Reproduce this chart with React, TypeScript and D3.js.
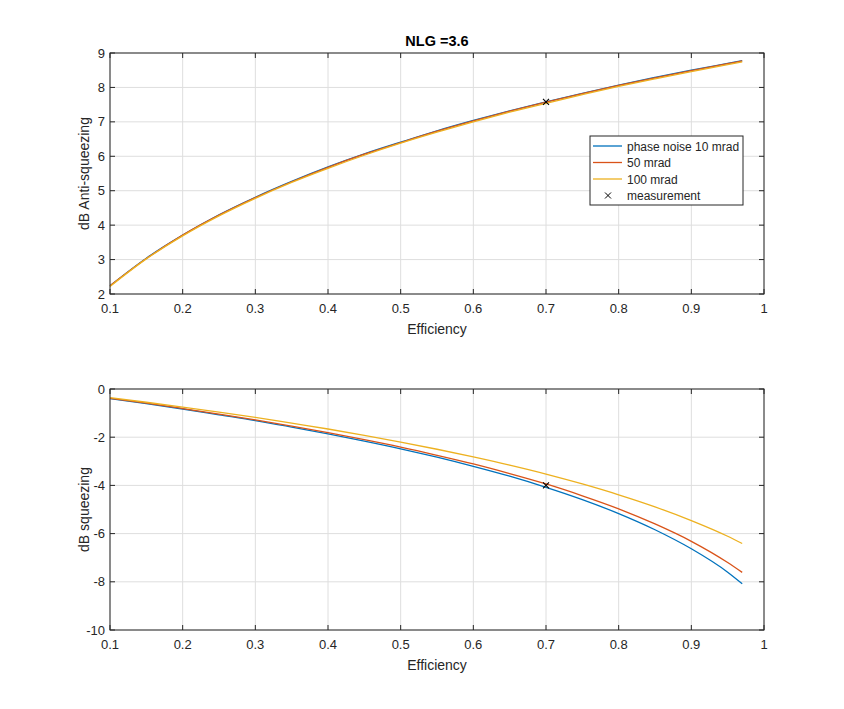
import * as d3 from 'd3';

const efficiency = [0.1, 0.15, 0.2, 0.25, 0.3, 0.35, 0.4, 0.45, 0.5, 0.55, 0.6, 0.65, 0.7, 0.75, 0.8, 0.85, 0.9, 0.95, 0.97];

// anti-squeezing (dB)
const antiPn10 = [2.24, 3.04, 3.71, 4.3, 4.81, 5.27, 5.69, 6.07, 6.41, 6.74, 7.04, 7.32, 7.58, 7.83, 8.07, 8.29, 8.5, 8.7, 8.78];
const antiPn50 = [2.24, 3.03, 3.71, 4.29, 4.8, 5.26, 5.68, 6.06, 6.4, 6.73, 7.03, 7.31, 7.57, 7.82, 8.06, 8.28, 8.49, 8.69, 8.77];
const antiPn100 = [2.22, 3.02, 3.69, 4.27, 4.78, 5.24, 5.65, 6.03, 6.38, 6.7, 7.0, 7.28, 7.54, 7.79, 8.03, 8.25, 8.46, 8.66, 8.74];

// squeezing (dB)
const sqzPn10 = [-0.4, -0.61, -0.83, -1.07, -1.31, -1.58, -1.86, -2.16, -2.48, -2.83, -3.21, -3.62, -4.08, -4.59, -5.17, -5.84, -6.63, -7.6, -8.08];
const sqzPn50 = [-0.39, -0.59, -0.81, -1.04, -1.28, -1.54, -1.81, -2.1, -2.41, -2.75, -3.11, -3.51, -3.94, -4.43, -4.97, -5.6, -6.32, -7.2, -7.61];
const sqzPn100 = [-0.36, -0.55, -0.75, -0.96, -1.18, -1.42, -1.66, -1.92, -2.2, -2.5, -2.82, -3.16, -3.53, -3.94, -4.39, -4.89, -5.46, -6.11, -6.41];

const measEff = 0.7;
const measAnti = 7.58;
const measSqz = -4.0;

const seriesNames = ['phase noise 10 mrad', '50 mrad', '100 mrad'];
const colors = ['#0072BD', '#D95319', '#EDB120'];

const xTicks = [0.1, 0.2, 0.3, 0.4, 0.5, 0.6, 0.7, 0.8, 0.9, 1];
const topYTicks = [2, 3, 4, 5, 6, 7, 8, 9];
const botYTicks = [0, -2, -4, -6, -8, -10];

const W = 844;
const H = 709;
const left = 110;
const right = 764;
const axColor = '#262626';
const font = '"Liberation Sans", Arial, Helvetica, sans-serif';

function Panel({
  top,
  bottom,
  yDomain,
  yTicks,
  ylabel,
  series,
  meas,
  children,
}: {
  top: number;
  bottom: number;
  yDomain: [number, number];
  yTicks: number[];
  ylabel: string;
  series: number[][];
  meas: number;
  children?: any;
}) {
  const x = d3.scaleLinear().domain([0.1, 1]).range([left, right]);
  const y = d3.scaleLinear().domain(yDomain).range([bottom, top]);
  const line = d3
    .line<number>()
    .x((_, i) => x(efficiency[i]))
    .y((d) => y(d))
    .curve(d3.curveMonotoneX);
  const tl = 5;
  const mx = x(measEff);
  const my = y(meas);
  return (
    <g>
      {xTicks.map((t) => (
        <line key={'gx' + t} x1={x(t)} x2={x(t)} y1={top} y2={bottom} stroke="#dedede" strokeWidth={1} />
      ))}
      {yTicks.map((t) => (
        <line key={'gy' + t} x1={left} x2={right} y1={y(t)} y2={y(t)} stroke="#dedede" strokeWidth={1} />
      ))}
      {series.map((s, i) => (
        <path key={i} d={line(s) || ''} fill="none" stroke={colors[i]} strokeWidth={1.3} />
      ))}
      <g stroke="#000" strokeWidth={1.1}>
        <line x1={mx - 3} x2={mx + 3} y1={my - 3} y2={my + 3} />
        <line x1={mx - 3} x2={mx + 3} y1={my + 3} y2={my - 3} />
      </g>
      <rect x={left} y={top} width={right - left} height={bottom - top} fill="none" stroke={axColor} strokeWidth={1} />
      {xTicks.map((t) => (
        <g key={'tx' + t}>
          <line x1={x(t)} x2={x(t)} y1={bottom} y2={bottom - tl} stroke={axColor} />
          <line x1={x(t)} x2={x(t)} y1={top} y2={top + tl} stroke={axColor} />
          <text x={x(t)} y={bottom + 19} textAnchor="middle" fontSize={13} fill={axColor} fontFamily={font}>
            {t === 1 ? '1' : t.toFixed(1)}
          </text>
        </g>
      ))}
      {yTicks.map((t) => (
        <g key={'ty' + t}>
          <line x1={left} x2={left + tl} y1={y(t)} y2={y(t)} stroke={axColor} />
          <line x1={right} x2={right - tl} y1={y(t)} y2={y(t)} stroke={axColor} />
          <text x={left - 5} y={y(t) + 4.5} textAnchor="end" fontSize={13} fill={axColor} fontFamily={font}>
            {t}
          </text>
        </g>
      ))}
      <text x={(left + right) / 2} y={bottom + 40} textAnchor="middle" fontSize={14} fill={axColor} fontFamily={font}>
        Efficiency
      </text>
      <text
        transform={`translate(${89},${(top + bottom) / 2}) rotate(-90)`}
        textAnchor="middle"
        fontSize={14}
        fill={axColor}
        fontFamily={font}
      >
        {ylabel}
      </text>
      {children}
    </g>
  );
}

function Legend() {
  const lx = 590;
  const ly = 136;
  const w = 153;
  const h = 69;
  const rows = [...seriesNames, 'measurement'];
  return (
    <g fontFamily={font} fontSize={12} fill={axColor}>
      <rect x={lx} y={ly} width={w} height={h} fill="#fff" stroke={axColor} strokeWidth={1} />
      {rows.map((r, i) => {
        const ry = ly + 10 + i * 16.5;
        return (
          <g key={r}>
            {i < 3 ? (
              <line x1={lx + 3} x2={lx + 32} y1={ry} y2={ry} stroke={colors[i]} strokeWidth={1.3} />
            ) : (
              <g stroke="#000" strokeWidth={1}>
                <line x1={lx + 15} x2={lx + 21} y1={ry - 3} y2={ry + 3} />
                <line x1={lx + 15} x2={lx + 21} y1={ry + 3} y2={ry - 3} />
              </g>
            )}
            <text x={lx + 37} y={ry + 4.5}>
              {r}
            </text>
          </g>
        );
      })}
    </g>
  );
}

export default function App() {
  return (
    <svg width={W} height={H} style={{ position: 'absolute', left: 0, top: 0, background: '#fff' }}>
      <rect width={W} height={H} fill="#fff" />
      <text x={(left + right) / 2} y={46} textAnchor="middle" fontSize={14.5} fontWeight="bold" fill="#000" fontFamily={font}>
        NLG =3.6
      </text>
      <Panel
        top={53}
        bottom={294}
        yDomain={[2, 9]}
        yTicks={topYTicks}
        ylabel="dB Anti-squeezing"
        series={[antiPn10, antiPn50, antiPn100]}
        meas={measAnti}
      >
        <Legend />
      </Panel>
      <Panel
        top={389}
        bottom={630}
        yDomain={[-10, 0]}
        yTicks={botYTicks}
        ylabel="dB squeezing"
        series={[sqzPn10, sqzPn50, sqzPn100]}
        meas={measSqz}
      />
    </svg>
  );
}
